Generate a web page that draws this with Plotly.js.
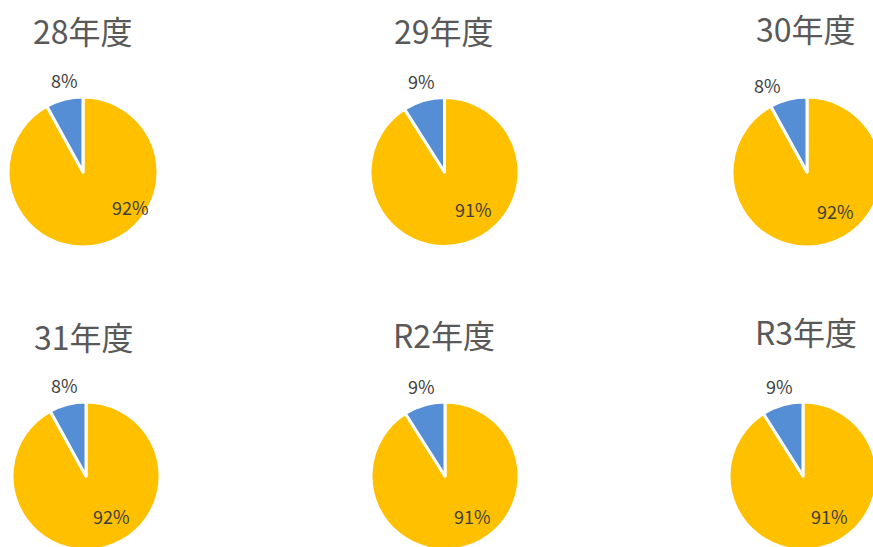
<!DOCTYPE html>
<html>
<head>
<meta charset="utf-8">
<script src="https://cdn.plot.ly/plotly-3.0.1.min.js"></script>
<style>
html,body{margin:0;padding:0;overflow:hidden;background:#fff;width:873px;height:547px;}
#chart{width:900px;height:560px;}
</style>
</head>
<body>
<div id="chart"></div>
<script>
// Data
const years = ["28年度", "29年度", "30年度", "31年度", "R2年度", "R3年度"];
const sliceNames = ["その他A", "その他B"];
const majorShare = [92, 91, 92, 92, 91, 91];
const minorShare = [8, 9, 8, 8, 9, 9];

// Layout (pixel geometry on a 900x560 paper, clipped to 873x547)
const W = 900, H = 560;
const centers = [[83,172,75],[444.5,172,74.5],[807,172,75],[86,476,74],[445,476,74],[803,476,74]];
const titlePos = [[83,30],[444,30],[806,28],[84,336],[444,334],[806,331]];
// label offsets from pie centre (px): [minor dx, minor dy, major dx, major dy]
const labelOffsets = [
  [-19,-92, 47,35],
  [-23.5,-91, 29.5,37],
  [-40,-87, 28,39],
  [-22,-91, 25,40],
  [-24,-90, 27,40],
  [-24,-90, 26,40]
];

const colors = ["#FFC000", "#558ED5"];
const font = "'Noto Sans CJK JP', 'Noto Sans', sans-serif";

const traces = years.map((y, i) => {
  const [cx, cy, r] = centers[i];
  return {
    type: "pie",
    name: y,
    labels: sliceNames,
    values: [majorShare[i], minorShare[i]],
    sort: false,
    direction: "clockwise",
    rotation: 0,
    textinfo: "none",
    marker: {colors: colors, line: {color: "#ffffff", width: 3}},
    showlegend: false,
    hoverinfo: "label+percent",
    automargin: false,
    domain: {
      x: [(cx - r) / W, (cx + r) / W],
      y: [1 - (cy + r) / H, 1 - (cy - r) / H]
    }
  };
});

const annotations = [];
years.forEach((y, i) => {
  annotations.push({
    text: y,
    x: titlePos[i][0] / W,
    y: 1 - titlePos[i][1] / H,
    xref: "paper", yref: "paper",
    xanchor: "center", yanchor: "middle",
    showarrow: false,
    font: {family: font, size: 32, color: "#595959"}
  });
  const [cx, cy] = centers[i];
  const o = labelOffsets[i];
  const total = majorShare[i] + minorShare[i];
  [[minorShare[i], o[0], o[1]], [majorShare[i], o[2], o[3]]].forEach(([v, dx, dy]) => {
    annotations.push({
      text: Math.round(v / total * 100) + "%",
      x: (cx + dx) / W,
      y: 1 - (cy + dy) / H,
      xref: "paper", yref: "paper",
      xanchor: "center", yanchor: "middle",
      showarrow: false,
      font: {family: font, size: 18, color: "#404040"}
    });
  });
});

Plotly.newPlot("chart", traces, {
  width: W, height: H,
  margin: {l: 0, r: 0, t: 0, b: 0},
  paper_bgcolor: "#ffffff",
  annotations: annotations
}, {displayModeBar: false, staticPlot: true});
</script>
</body>
</html>
